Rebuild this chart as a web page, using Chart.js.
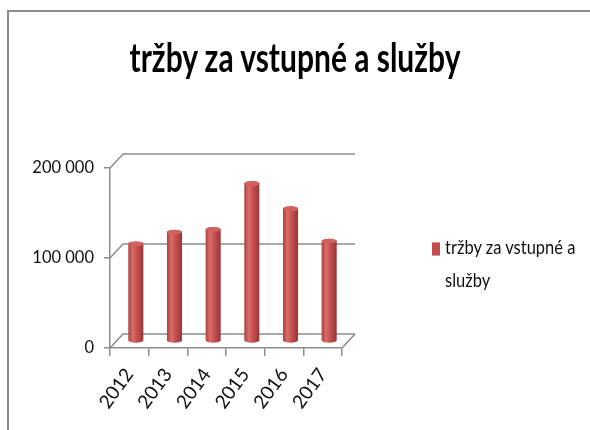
<!DOCTYPE html>
<html>
<head>
<meta charset="utf-8">
<script src="https://cdn.jsdelivr.net/npm/chart.js@4"></script>
<style>
  html, body { margin: 0; background: #fff; overflow: hidden; }
  #wrap { position: relative; width: 590px; height: 430px; overflow: hidden; }
  .line { position: absolute; background: #8c8c8c; }
  #title { position: absolute; left: 0; top: 38px; width: 590px; text-align: center; font-family: "Lato", sans-serif; font-weight: bold; font-size: 30px; line-height: 36px; color: #000; transform: scaleY(1.35); }
  #legend { position: absolute; left: 432px; top: 228px; width: 155px; font-family: "Lato", sans-serif; font-size: 16.5px; line-height: 32px; color: #111; transform-origin: 0 0; transform: scaleY(1.2); }
  #legend .key { display: inline-block; width: 8px; height: 11px; background: #c0504d; margin-right: 5px; vertical-align: -1px; }
  #legend .row2 { padding-left: 13px; margin-top: -5px; }
  canvas { position: absolute; left: 0; top: 0; }
</style>
</head>
<body>
<div id="wrap">
  <div class="line" style="left:7px;top:10px;width:2px;height:430px"></div>
  <div class="line" style="left:7px;top:10px;width:600px;height:2px"></div>
  <canvas id="revChart" width="590" height="430"></canvas>
  <div id="title">tržby za vstupné a služby</div>
  <div id="legend"><div><span class="key"></span>tržby za vstupné a</div><div class="row2">služby</div></div>
</div>
<script>
const years = ["2012", "2013", "2014", "2015", "2016", "2017"];
const revenue = [108000, 121000, 124000, 175000, 147000, 111000];
const yTicks = [0, 100000, 200000];
const seriesName = "tržby za vstupné a služby";

const FONT = "'Lato', sans-serif";
const gridColor = "#8c8c8c";
const dx = 13, dy = -14;   // depth of the 3d box

// back wall and floor lines
const walls = {
  id: "walls",
  beforeDatasetsDraw(chart) {
    const { ctx, chartArea: a, scales: { y } } = chart;
    ctx.save();
    ctx.strokeStyle = gridColor;
    ctx.lineWidth = 1.5;
    yTicks.forEach(v => {
      const py = y.getPixelForValue(v);
      ctx.beginPath();
      ctx.moveTo(a.left, py);
      ctx.lineTo(a.left + dx, py + dy);
      ctx.lineTo(a.right + dx, py + dy);
      ctx.stroke();
    });
    ctx.beginPath();
    ctx.moveTo(a.right, a.bottom);
    ctx.lineTo(a.right + dx, a.bottom + dy);
    ctx.stroke();
    ctx.restore();
  },
  // cylinders
  afterDatasetsDraw(chart) {
    const ctx = chart.ctx;
    chart.getDatasetMeta(0).data.forEach(bar => {
      const cx = bar.x + dx / 2;
      const top = bar.y + dy / 2;
      const bottom = bar.base + dy / 2;
      const r = bar.width / 2, ry = r * 0.32;
      const g = ctx.createLinearGradient(cx - r, 0, cx + r, 0);
      g.addColorStop(0, "#a9423f");
      g.addColorStop(0.3, "#d96d6a");
      g.addColorStop(0.55, "#c9524f");
      g.addColorStop(1, "#96363a");
      ctx.save();
      ctx.fillStyle = g;
      ctx.beginPath();
      ctx.moveTo(cx - r, top);
      ctx.lineTo(cx - r, bottom);
      ctx.ellipse(cx, bottom, r, ry, 0, Math.PI, 0, true);
      ctx.lineTo(cx + r, top);
      ctx.ellipse(cx, top, r, ry, 0, 0, Math.PI, true);
      ctx.closePath();
      ctx.fill();
      ctx.fillStyle = "#d3625f";
      ctx.beginPath();
      ctx.ellipse(cx, top, r, ry, 0, 0, Math.PI * 2);
      ctx.fill();
      ctx.restore();
    });
  }
};

const ctx = document.getElementById("revChart").getContext("2d");
const revChart = new Chart(ctx, {
  type: "bar",
  data: {
    labels: years,
    datasets: [{
      label: seriesName,
      data: revenue,
      backgroundColor: "rgba(0,0,0,0)",
      borderWidth: 0,
      categoryPercentage: 1,
      barPercentage: 0.39
    }]
  },
  options: {
    responsive: false,
    animation: false,
    events: [],
    layout: { padding: { left: 0, right: 248, top: 168, bottom: 0 } },
    plugins: {
      legend: { display: false },
      tooltip: { enabled: false },
      title: { display: false }
    },
    scales: {
      x: {
        grid: { display: true, drawOnChartArea: false, drawTicks: true, tickLength: 8, color: gridColor, lineWidth: 1.5, offset: true },
        border: { display: true, color: gridColor, width: 1.5 },
        ticks: { color: "#111", font: { family: FONT, size: 19 }, minRotation: 54, maxRotation: 54, padding: 8 },
        afterFit(scale) { scale.height = 82; }
      },
      y: {
        min: 0,
        max: 200000,
        afterBuildTicks(scale) { scale.ticks = yTicks.map(v => ({ value: v })); },
        grid: { display: true, drawOnChartArea: false, drawTicks: true, tickLength: 6, color: gridColor, lineWidth: 1.5 },
        border: { display: true, color: gridColor, width: 1.5 },
        ticks: {
          color: "#111",
          font: { family: FONT, size: 16.5 },
          padding: 10,
          callback: v => String(v).replace(/\B(?=(\d{3})+(?!\d))/g, " ")
        },
        afterFit(scale) { scale.width = 110; }
      }
    }
  },
  plugins: [walls]
});
</script>
</body>
</html>
